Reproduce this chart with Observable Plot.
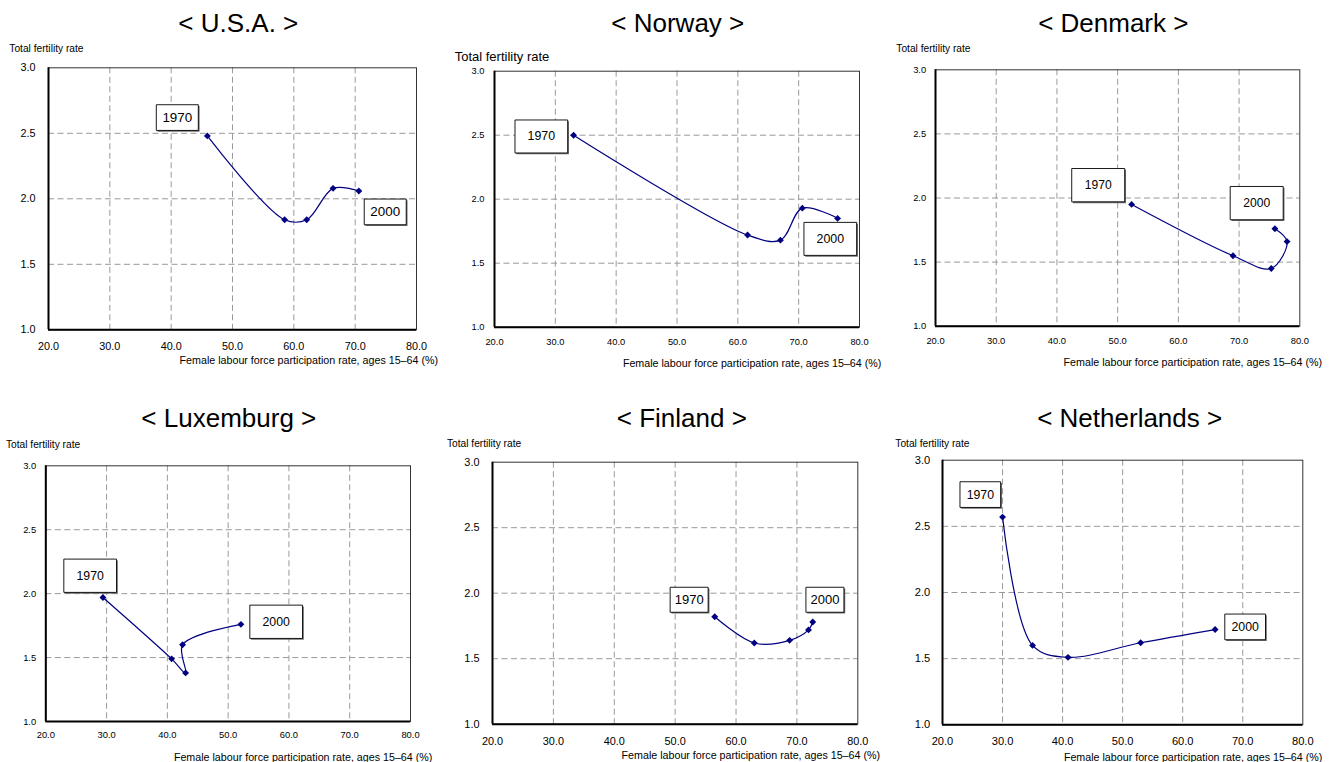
<!DOCTYPE html>
<html><head><meta charset="utf-8">
<script src="https://cdn.jsdelivr.net/npm/d3@7"></script>
<script src="https://cdn.jsdelivr.net/npm/@observablehq/plot@0.6"></script>
<style>
body{margin:0;background:#fff;font-family:"Liberation Sans",Arial,sans-serif;}
#root{position:relative;width:1332px;height:762px;overflow:hidden;background:#fff;}
.panel{position:absolute;width:444px;height:381px;}
.panel svg{position:absolute;left:0;top:0;}
.t{position:absolute;white-space:nowrap;color:#000;line-height:1;}
</style></head><body><div id="root"></div>
<script>
// ---- data ----
const countries = ["U.S.A.", "Norway", "Denmark", "Luxemburg", "Finland", "Netherlands"];
const xTicks = [20, 30, 40, 50, 60, 70, 80];
const yTicks = [1.0, 1.5, 2.0, 2.5, 3.0];
const endYears = ["1970", "2000"];
const yTitle = "Total fertility rate";
const xTitle = "Female labour force participation rate, ages 15\u201364 (%)";

const usaParticipation = [45.9, 58.5, 62.1, 66.4, 70.6];
const usaFertility = [2.48, 1.84, 1.84, 2.08, 2.06];
const norwayParticipation = [33.0, 61.6, 67.0, 70.6, 76.4];
const norwayFertility = [2.50, 1.72, 1.68, 1.93, 1.85];
const denmarkParticipation = [52.3, 69.0, 75.3, 77.9, 75.9];
const denmarkFertility = [1.95, 1.55, 1.45, 1.66, 1.76];
const luxemburgParticipation = [29.4, 40.7, 43.0, 42.5, 52.1];
const luxemburgFertility = [1.97, 1.49, 1.38, 1.60, 1.76];
const finlandParticipation = [56.5, 63.0, 68.8, 71.9, 72.6];
const finlandFertility = [1.82, 1.62, 1.64, 1.72, 1.78];
const netherlandsParticipation = [30.0, 35.0, 40.9, 53.0, 65.4];
const netherlandsFertility = [2.57, 1.60, 1.51, 1.62, 1.72];

const series = [
  [usaParticipation, usaFertility],
  [norwayParticipation, norwayFertility],
  [denmarkParticipation, denmarkFertility],
  [luxemburgParticipation, luxemburgFertility],
  [finlandParticipation, finlandFertility],
  [netherlandsParticipation, netherlandsFertility]
];

// ---- layout (pixel geometry + annotation anchors in data units) ----
const layout = [
  {ox:0, oy:0, L:48, T:67.3, R:416, B:329.3, tx:238.3, ty:23.2, ylx:9.3, yly:49.3, ylf:10.2, tf:10.8, xp:13, yp:13, xtr:438, xty:360, bw:42, bh:25.7, bf:13.4, lab:[[41.0,2.62],[74.9,1.90]]},
  {ox:444, oy:0, L:50, T:70.7, R:415, B:326.7, tx:233.8, ty:23, ylx:10.7, yly:56.7, ylf:13, tf:9.3, xp:10.7, yp:10, xtr:437.3, xty:363, bw:52.7, bh:33, bf:12.4, lab:[[27.7,2.49],[75.2,1.69]]},
  {ox:888, oy:0, L:47, T:69.3, R:411.3, B:325.7, tx:225.3, ty:23, ylx:8.3, yly:49.3, ylf:10.2, tf:9.4, xp:11, yp:9.3, xtr:434, xty:362, bw:53, bh:33.3, bf:12.1, lab:[[46.8,2.10],[72.9,1.96]]},
  {ox:0, oy:381, L:45.3, T:84.3, R:410, B:340, tx:228.8, ty:36.5, ylx:6, yly:64.3, ylf:10.2, tf:9.4, xp:10, yp:9.6, xtr:432.3, xty:376, bw:52.7, bh:33.3, bf:12.3, lab:[[27.3,2.14],[57.9,1.78]]},
  {ox:444, oy:381, L:48, T:80.7, R:413.3, B:342.7, tx:237.8, ty:36.5, ylx:3, yly:62.7, ylf:10.2, tf:10.9, xp:12.6, yp:13, xtr:436, xty:374.3, bw:38, bh:25, bf:13, lab:[[52.3,1.95],[74.6,1.95]]},
  {ox:888, oy:381, L:54, T:78.7, R:414.3, B:343.3, tx:241.7, ty:36.5, ylx:7.3, yly:63.3, ylf:10.2, tf:11.1, xp:12.7, yp:12.3, xtr:434.3, xty:376, bw:40.7, bh:25.7, bf:12.3, lab:[[26.3,2.74],[70.4,1.74]]}
];

const FONT = '"Liberation Sans", Arial, sans-serif';
const NAVY = "#000080";

const boxSymbol = (w, h) => ({
  draw(ctx) {
    ctx.moveTo(-w / 2, -h / 2);
    ctx.lineTo(w / 2, -h / 2);
    ctx.lineTo(w / 2, h / 2);
    ctx.lineTo(-w / 2, h / 2);
    ctx.closePath();
  }
});

function addText(parent, txt, left, top, size, extra) {
  const d = document.createElement("div");
  d.className = "t";
  d.textContent = txt;
  d.style.fontSize = size + "px";
  d.style.top = top + "px";
  Object.assign(d.style, extra || {});
  if (left !== null) d.style.left = left + "px";
  parent.appendChild(d);
  return d;
}

const root = document.getElementById("root");

countries.forEach((name, k) => {
  const c = layout[k];
  const [xs, ys] = series[k];
  const pts = xs.map((x, i) => ({x, y: ys[i]}));
  const labels = endYears.map((t, i) => ({text: t, x: c.lab[i][0], y: c.lab[i][1]}));

  const div = document.createElement("div");
  div.className = "panel";
  div.style.left = c.ox + "px";
  div.style.top = c.oy + "px";
  root.appendChild(div);

  const svg = Plot.plot({
    width: 444, height: 381,
    marginLeft: c.L, marginTop: c.T, marginRight: 444 - c.R, marginBottom: 381 - c.B,
    style: {fontFamily: FONT, fontSize: c.tf + "px", color: "#000", background: "transparent", overflow: "visible"},
    x: {domain: [20, 80], ticks: xTicks, tickFormat: d => d.toFixed(1), tickSize: 0, tickPadding: c.xp, label: null},
    y: {domain: [1, 3], ticks: yTicks, tickFormat: d => d.toFixed(1), tickSize: 0, tickPadding: c.yp, label: null},
    marks: [
      Plot.gridX(xTicks.filter(d => d > 20 && d < 80), {stroke: "#999", strokeOpacity: 1, strokeDasharray: "6,3.5"}),
      Plot.gridY(yTicks.filter(d => d > 1 && d < 3), {stroke: "#999", strokeOpacity: 1, strokeDasharray: "6,3.5"}),
      Plot.frame({stroke: "#333", strokeWidth: 1}),
      Plot.ruleX([20], {stroke: "#000", strokeWidth: 2}),
      Plot.ruleY([1], {stroke: "#000", strokeWidth: 2}),
      Plot.line(pts, {x: "x", y: "y", stroke: NAVY, strokeWidth: 1.2, curve: "catmull-rom"}),
      Plot.dot(pts, {x: "x", y: "y", symbol: "diamond2", r: 3.1, fill: NAVY, stroke: "none"}),
      Plot.dot(labels, {x: "x", y: "y", symbol: boxSymbol(c.bw, c.bh), r: 5, dx: 1.3, dy: 1.3, fill: "#6e6e6e", stroke: "none"}),
      Plot.dot(labels, {x: "x", y: "y", symbol: boxSymbol(c.bw, c.bh), r: 5, fill: "#fff", stroke: "#000", strokeWidth: 0.9}),
      Plot.text(labels, {x: "x", y: "y", text: "text", fontSize: c.bf, fill: "#000"})
    ]
  });
  div.appendChild(svg);

  // title
  const tfs = 26;
  const t = addText(div, "< " + name + " >", c.tx, c.ty - 0.49 * tfs, tfs);
  t.style.transform = "translateX(-50%)";
  // y title
  addText(div, yTitle, c.ylx, c.yly - 0.49 * c.ylf, c.ylf);
  // x title (right aligned)
  const xfs = 10.7;
  addText(div, xTitle, null, c.xty - 0.49 * xfs, xfs, {right: (444 - c.xtr) + "px"});
});
</script>
</body></html>
